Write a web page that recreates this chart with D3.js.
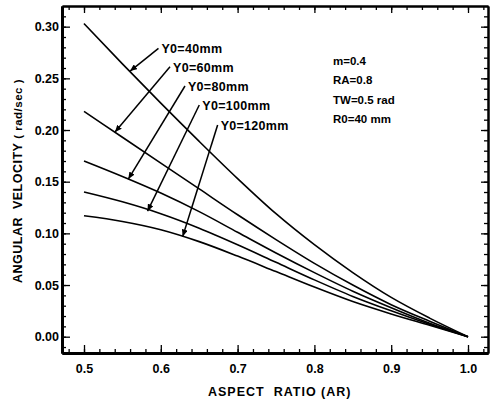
<!DOCTYPE html>
<html><head><meta charset="utf-8">
<script src="https://cdn.jsdelivr.net/npm/d3@7/dist/d3.min.js"></script>
<style>
html,body{margin:0;padding:0;background:#fff;}
svg{display:block;font-family:"Liberation Sans",Arial,Helvetica,sans-serif;}
</style></head>
<body>
<svg id="chart" width="493" height="402"></svg>
<script>
// ---- data ----
const aspectRatio = [0.5, 0.55, 0.6, 0.65, 0.7, 0.75, 0.8, 0.85, 0.9, 0.95, 1.0];
const seriesNames = ["Y0=40mm", "Y0=60mm", "Y0=80mm", "Y0=100mm", "Y0=120mm"];
const y0_40  = [0.303, 0.264, 0.226, 0.189, 0.153, 0.119, 0.089, 0.062, 0.038, 0.018, 0];
const y0_60  = [0.218, 0.193, 0.168, 0.143, 0.118, 0.094, 0.071, 0.050, 0.031, 0.015, 0];
const y0_80  = [0.170, 0.155, 0.139, 0.121, 0.101, 0.081, 0.062, 0.044, 0.028, 0.013, 0];
const y0_100 = [0.140, 0.1305, 0.119, 0.105, 0.089, 0.072, 0.055, 0.039, 0.025, 0.012, 0];
const y0_120 = [0.117, 0.1115, 0.1035, 0.092, 0.078, 0.063, 0.048, 0.034, 0.022, 0.011, 0];
const seriesValues = [y0_40, y0_60, y0_80, y0_100, y0_120];
// arrow tails / tips in data units (AR, angular velocity)
const arrowTail = [[0.597, 0.279], [0.612, 0.2613], [0.6315, 0.2426], [0.6501, 0.2242], [0.674, 0.2049]];
const arrowTip  = [[0.560, 0.257], [0.5404, 0.198], [0.5577, 0.1525], [0.5827, 0.1215], [0.6285, 0.097]];
const xTickValues = [0.5, 0.6, 0.7, 0.8, 0.9, 1.0];
const xTickLabels = ["0.5", "0.6", "0.7", "0.8", "0.9", "1.0"];
const yTickValues = [0, 0.05, 0.10, 0.15, 0.20, 0.25, 0.30];
const yTickLabels = ["0.00", "0.05", "0.10", "0.15", "0.20", "0.25", "0.30"];
const xMinorTicks = [0.48,0.50,0.52,0.54,0.56,0.58,0.60,0.62,0.64,0.66,0.68,0.70,0.72,0.74,0.76,0.78,0.80,0.82,0.84,0.86,0.88,0.90,0.92,0.94,0.96,0.98,1.00,1.02];
const yMinorTicks = [-0.01,0,0.01,0.02,0.03,0.04,0.05,0.06,0.07,0.08,0.09,0.10,0.11,0.12,0.13,0.14,0.15,0.16,0.17,0.18,0.19,0.20,0.21,0.22,0.23,0.24,0.25,0.26,0.27,0.28,0.29,0.30,0.31];
const paramLines = ["m=0.4", "RA=0.8", "TW=0.5 rad", "R0=40 mm"];
const xTitle = "ASPECT  RATIO (AR)";
const yTitleMain = "ANGULAR  VELOCITY ";
const yTitleUnit = "( rad/sec )";

// ---- layout ----
const L = 62, R = 488, T = 6, B = 353;
const svg = d3.select("#chart");
const x = d3.scaleLinear().domain([0.47135, 1.02604]).range([L, R]);
const y = d3.scaleLinear().domain([-0.01577, 0.32]).range([B, T]);

svg.append("defs").append("marker")
  .attr("id", "ah").attr("markerUnits", "userSpaceOnUse")
  .attr("markerWidth", 8).attr("markerHeight", 6)
  .attr("refX", 7).attr("refY", 3).attr("orient", "auto")
  .append("path").attr("d", "M0,0 L7,3 L0,6 Z").attr("fill", "#000");

const fmtX = d => xTickLabels[xTickValues.findIndex(v => Math.abs(v - d) < 1e-9)];
const fmtY = d => yTickLabels[yTickValues.findIndex(v => Math.abs(v - d) < 1e-9)];

function styleAxis(g, w) {
  g.select(".domain").attr("stroke", "#000").attr("stroke-width", w);
  g.selectAll(".tick line").attr("stroke", "#000").attr("stroke-width", 1.3);
  g.selectAll(".tick text").attr("fill", "#000").attr("font-size", 12.5).attr("font-weight", "bold").attr("font-family", '"Liberation Sans",Arial,sans-serif');
}

// minor ticks
svg.append("g").attr("transform", `translate(0,${B})`)
  .call(d3.axisBottom(x).tickValues(xMinorTicks).tickSizeInner(-4).tickSizeOuter(0).tickFormat(""))
  .call(g => styleAxis(g, 3));
svg.append("g").attr("transform", `translate(0,${T})`)
  .call(d3.axisTop(x).tickValues(xMinorTicks).tickSizeInner(-4).tickSizeOuter(0).tickFormat(""))
  .call(g => styleAxis(g, 2));
svg.append("g").attr("transform", `translate(${L},0)`)
  .call(d3.axisLeft(y).tickValues(yMinorTicks).tickSizeInner(-4).tickSizeOuter(0).tickFormat(""))
  .call(g => styleAxis(g, 3));
svg.append("g").attr("transform", `translate(${R},0)`)
  .call(d3.axisRight(y).tickValues(yMinorTicks).tickSizeInner(-4).tickSizeOuter(0).tickFormat(""))
  .call(g => styleAxis(g, 2));

// major ticks with labels
svg.append("g").attr("transform", `translate(0,${B})`)
  .call(d3.axisBottom(x).tickValues(xTickValues).tickSizeInner(-8).tickSizeOuter(0).tickPadding(11).tickFormat(fmtX))
  .call(g => styleAxis(g, 3));
svg.append("g").attr("transform", `translate(0,${T})`)
  .call(d3.axisTop(x).tickValues(xTickValues).tickSizeInner(-7).tickSizeOuter(0).tickFormat(""))
  .call(g => styleAxis(g, 2));
svg.append("g").attr("transform", `translate(${L},0)`)
  .call(d3.axisLeft(y).tickValues(yTickValues).tickSizeInner(-8).tickSizeOuter(0).tickPadding(3).tickFormat(fmtY))
  .call(g => styleAxis(g, 3));
svg.append("g").attr("transform", `translate(${R},0)`)
  .call(d3.axisRight(y).tickValues(yTickValues).tickSizeInner(-7).tickSizeOuter(0).tickFormat(""))
  .call(g => styleAxis(g, 2));

// curves
const line = d3.line().x(d => x(d[0])).y(d => y(d[1])).curve(d3.curveMonotoneX);
seriesValues.forEach(vals => {
  svg.append("path")
    .attr("d", line(aspectRatio.map((a, i) => [a, vals[i]])))
    .attr("fill", "none").attr("stroke", "#000").attr("stroke-width", 1.6);
});

// arrows + labels
seriesNames.forEach((name, i) => {
  const [tx, ty] = arrowTail[i], [hx, hy] = arrowTip[i];
  svg.append("line")
    .attr("x1", x(tx)).attr("y1", y(ty)).attr("x2", x(hx)).attr("y2", y(hy))
    .attr("stroke", "#000").attr("stroke-width", 1.5).attr("marker-end", "url(#ah)");
  svg.append("text")
    .attr("x", x(tx) + 3).attr("y", y(ty) + 5)
    .attr("font-size", 12.5).attr("font-weight", "bold").attr("letter-spacing", 0.3).text(name);
});

// parameter block
svg.append("g").selectAll("text").data(paramLines).join("text")
  .attr("x", 333).attr("y", (d, i) => 65 + i * 19.4)
  .attr("font-size", 11.5).attr("font-weight", "bold").text(d => d);

// axis titles
svg.append("text").attr("x", 208).attr("y", 396)
  .attr("font-size", 12.5).attr("font-weight", "bold").attr("letter-spacing", 1)
  .style("white-space", "pre").text(xTitle);
const yt = svg.append("text")
  .attr("transform", "translate(22,181) rotate(-90)")
  .attr("text-anchor", "middle").attr("font-weight", "bold").attr("letter-spacing", 0.5)
  .style("white-space", "pre");
yt.append("tspan").attr("font-size", 12.5).text(yTitleMain);
yt.append("tspan").attr("font-size", 11.5).text(yTitleUnit);
</script>
</body></html>
